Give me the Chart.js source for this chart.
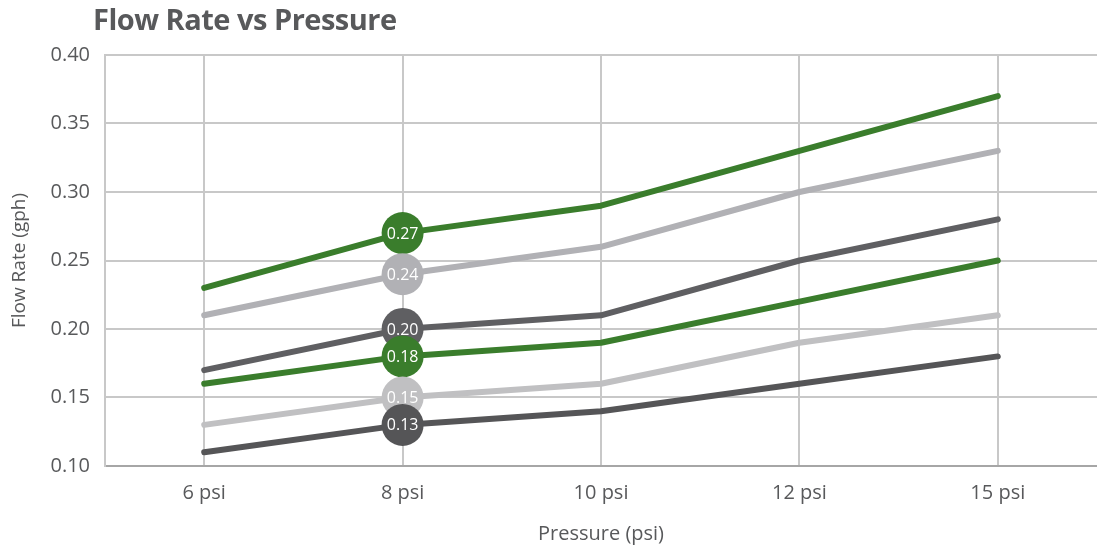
<!DOCTYPE html>
<html>
<head>
<meta charset="utf-8">
<script src="https://cdn.jsdelivr.net/npm/chart.js@4"></script>
<style>
  html, body { margin: 0; padding: 0; background: #fff; }
  #wrap { position: relative; width: 1097px; height: 550px; }
  #title { position: absolute; left: 93px; top: -1px; font: bold 29px "Open Sans", sans-serif; color: #58595b; letter-spacing: -0.5px; }
</style>
</head>
<body>
<div id="wrap">
  <div id="title">Flow Rate vs Pressure</div>
  <canvas id="flowChart" width="1097" height="550"></canvas>
</div>
<script>
// chart values
var pressures = ["6 psi", "8 psi", "10 psi", "12 psi", "15 psi"];

var greenHigh = [0.23, 0.27, 0.29, 0.33, 0.37];
var grayHigh  = [0.21, 0.24, 0.26, 0.30, 0.33];
var darkHigh  = [0.17, 0.20, 0.21, 0.25, 0.28];
var greenLow  = [0.16, 0.18, 0.19, 0.22, 0.25];
var grayLow   = [0.13, 0.15, 0.16, 0.19, 0.21];
var darkLow   = [0.11, 0.13, 0.14, 0.16, 0.18];

var labelIndex = 1; // values shown at 8 psi

function makeLine(values, color, drawOrder) {
  var radii = values.map(function (v, i) { return i === labelIndex ? 21 : 0; });
  return {
    data: values,
    borderColor: color,
    backgroundColor: color,
    borderWidth: 6,
    borderCapStyle: 'round',
    borderJoinStyle: 'round',
    pointRadius: radii,
    pointHoverRadius: radii,
    pointBorderWidth: 0,
    tension: 0,
    fill: false,
    order: drawOrder
  };
}

var valueLabels = {
  id: 'valueLabels',
  afterDatasetsDraw: function (chart) {
    var ctx = chart.ctx;
    ctx.save();
    ctx.fillStyle = '#ffffff';
    ctx.font = '16px "Open Sans", sans-serif';
    ctx.textAlign = 'center';
    ctx.textBaseline = 'middle';
    chart.data.datasets.forEach(function (ds, i) {
      var pt = chart.getDatasetMeta(i).data[labelIndex];
      ctx.fillText(ds.data[labelIndex].toFixed(2), pt.x, pt.y + 1);
    });
    ctx.restore();
  }
};

var canvasFlow = document.getElementById("flowChart");
var flowChart = new Chart(canvasFlow, {
  type: 'line',
  data: {
    labels: pressures,
    datasets: [
      makeLine(greenHigh, '#3a7d2c', 6),
      makeLine(grayHigh, '#b1b1b5', 5),
      makeLine(darkHigh, '#5f5f62', 4),
      makeLine(greenLow, '#3a7d2c', 3),
      makeLine(grayLow, '#c0c0c2', 2),
      makeLine(darkLow, '#555557', 1)
    ]
  },
  options: {
    responsive: false,
    animation: false,
    layout: { padding: { top: 55, right: 0, bottom: 0, left: 4 } },
    plugins: {
      legend: { display: false },
      tooltip: { enabled: false }
    },
    scales: {
      x: {
        offset: true,
        grid: { offset: false, color: '#c8c8c8', lineWidth: 2, drawTicks: false },
        border: { color: '#a6a6a6', width: 2 },
        ticks: { color: '#58595b', font: { family: 'Open Sans', size: 20 }, padding: 15 },
        title: { display: true, text: 'Pressure (psi)', color: '#58595b', font: { family: 'Open Sans', size: 20 }, padding: { top: 8 } },
        afterFit: function (scale) { scale.height = 84; }
      },
      y: {
        min: 0.10,
        max: 0.40,
        grid: { color: '#c8c8c8', lineWidth: 2, drawTicks: false },
        border: { color: '#c8c8c8', width: 2 },
        ticks: {
          stepSize: 0.05,
          color: '#58595b',
          font: { family: 'Open Sans', size: 20 },
          padding: 15,
          callback: function (v) { return v.toFixed(2); }
        },
        title: { display: true, text: 'Flow Rate (gph)', color: '#58595b', font: { family: 'Open Sans', size: 19 } },
        afterFit: function (scale) { scale.width = 101; }
      }
    }
  },
  plugins: [valueLabels]
});
</script>
</body>
</html>
